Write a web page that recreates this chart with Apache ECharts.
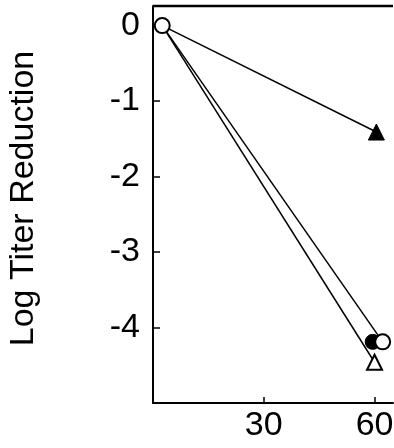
<!DOCTYPE html>
<html>
<head>
<meta charset="utf-8">
<script src="https://cdn.jsdelivr.net/npm/echarts@6/dist/echarts.min.js"></script>
<style>html,body{margin:0;padding:0;background:#fff}#c{width:394px;height:448px}</style>
</head>
<body>
<div id="c"></div>
<script>
// Data
const xTickLabels = ['30', '60'];
const yTickLabels = ['0', '-1', '-2', '-3', '-4'];
const start = [2.5, 0];
const filledTriangleEnd = [60.5, -1.41];
const openTriangleEnd = [60, -4.46];
const openCircleEnd = [62.2, -4.19];
const filledCircleEnd = [59.5, -4.19];
const yMin = -5, yMax = 0.26, xMin = 0, xMax = 65;

const FONT = 'Liberation Sans';
const chart = echarts.init(document.getElementById('c'));
const lineStyle = { color: '#000', width: 1.5 };
chart.setOption({
  animation: false,
  backgroundColor: '#fff',
  grid: { left: 153, right: 1, top: 6, bottom: 45, containLabel: false, outerBoundsMode: 'none' },
  xAxis: {
    type: 'value', min: xMin, max: xMax, interval: 30, position: 'bottom',
    axisLine: { onZero: false, lineStyle: { color: '#000', width: 2 } },
    axisTick: { inside: true, length: 6, lineStyle: { color: '#000', width: 1.5 } },
    axisLabel: {
      margin: 6, color: '#000', fontFamily: FONT, fontSize: 34,
      showMinLabel: false, showMaxLabel: false,
      formatter: v => xTickLabels.includes(String(v)) ? String(v) : ''
    },
    splitLine: { show: false }
  },
  yAxis: {
    type: 'value', min: yMin, max: yMax, interval: 1,
    name: 'Log Titer Reduction', nameLocation: 'middle', nameGap: 112,
    nameTextStyle: { color: '#000', fontFamily: FONT, fontSize: 34, padding: [0, 0, 0, 12] },
    axisLine: { show: true, onZero: false, lineStyle: { color: '#000', width: 2 } },
    axisTick: { inside: true, length: 7, lineStyle: { color: '#000', width: 1.5 } },
    axisLabel: {
      margin: 13, color: '#000', fontFamily: FONT, fontSize: 34,
      showMinLabel: false, showMaxLabel: false,
      formatter: v => yTickLabels.includes(String(v)) ? String(v) : ''
    },
    splitLine: { show: false }
  },
  series: [
    {
      // top frame line along the axis maximum
      type: 'line', data: [[xMin, yMax], [xMax, yMax]], symbol: 'none', clip: false,
      lineStyle: { color: '#000', width: 2.5 }
    },
    {
      type: 'line', data: [{ value: start, symbol: 'none' }, filledTriangleEnd],
      symbol: 'triangle', symbolSize: 16, lineStyle,
      itemStyle: { color: '#000', borderColor: '#000' }, z: 2
    },
    {
      type: 'line', data: [{ value: start, symbol: 'none' }, openTriangleEnd],
      symbol: 'triangle', symbolSize: 15, lineStyle,
      itemStyle: { color: '#fff', borderColor: '#000', borderWidth: 2 }, z: 2
    },
    {
      type: 'scatter', data: [filledCircleEnd],
      symbol: 'circle', symbolSize: 15,
      itemStyle: { color: '#000', borderColor: '#000', opacity: 1 }, z: 3
    },
    {
      type: 'line', data: [start, openCircleEnd],
      symbol: 'circle', symbolSize: 15, lineStyle,
      itemStyle: { color: '#fff', borderColor: '#000', borderWidth: 2 }, z: 4
    }
  ]
});
</script>
</body>
</html>
